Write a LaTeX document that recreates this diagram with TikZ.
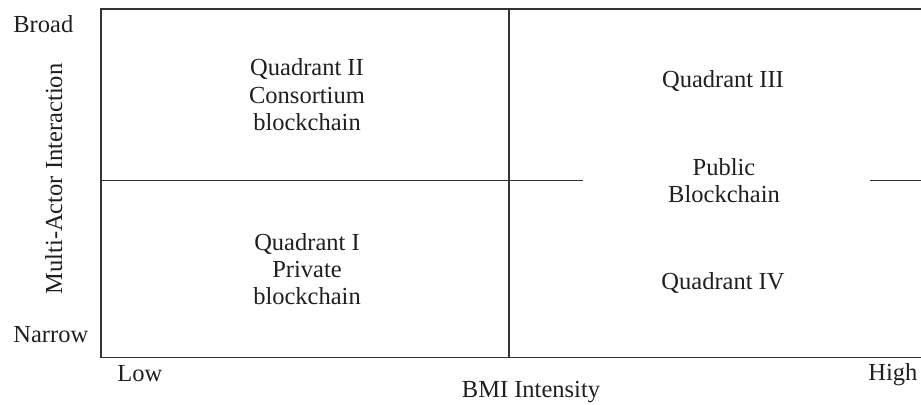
\documentclass[tikz,border=0pt]{standalone}
\usepackage{fontspec}
\setmainfont{Liberation Serif}
\begin{document}
\begin{tikzpicture}[x=0.5pt,y=-0.5pt,
  axisline/.style={draw=black!80,line width=0.6pt},
  lbl/.style={inner sep=0pt,font=\fontsize{12.25}{13.65}\selectfont,text=black!88},
  quad/.style={lbl,align=center,anchor=base}]
\useasboundingbox (0,0) rectangle (921,405);
% frame coordinates
\coordinate (tl) at (101,9);
\coordinate (tr) at (921,9);
\coordinate (bl) at (101,357.5);
\coordinate (br) at (921,357.5);
\coordinate (mt) at (509,9);
\coordinate (mb) at (509,357.5);
\coordinate (ml) at (101,180.5);
\coordinate (mc) at (583,180.5);
\coordinate (mr1) at (870,180.5);
\coordinate (mr2) at (921,180.5);
% lines
\draw[axisline] (tr) -- (tl) -- (bl) -- (br);
\draw[axisline] (mt) -- (mb);
\draw[axisline] (ml) -- (mc);
\draw[axisline] (mr1) -- (mr2);
% quadrant texts
\node[quad] (q2) at (307,130.5) {Quadrant II\\Consortium\\blockchain};
\node[quad] (q1) at (307,305) {Quadrant I\\Private\\blockchain};
\node[quad] (q3) at (723,88) {Quadrant III};
\node[quad] (pub) at (724,203) {Public\\Blockchain};
\node[quad] (q4) at (723,290) {Quadrant IV};
% axis labels
\node[lbl,anchor=base west] (broad) at (13,33) {Broad};
\node[lbl,anchor=base west] (narrow) at (13,343) {Narrow};
\node[lbl,anchor=base,rotate=90] (yax) at (62,179) {Multi-Actor Interaction};
\node[lbl,anchor=base west] (low) at (117,382) {Low};
\node[lbl,anchor=base west] (high) at (868,381) {High};
\node[lbl,anchor=base] (xax) at (531,398) {BMI Intensity};
\end{tikzpicture}
\end{document}
